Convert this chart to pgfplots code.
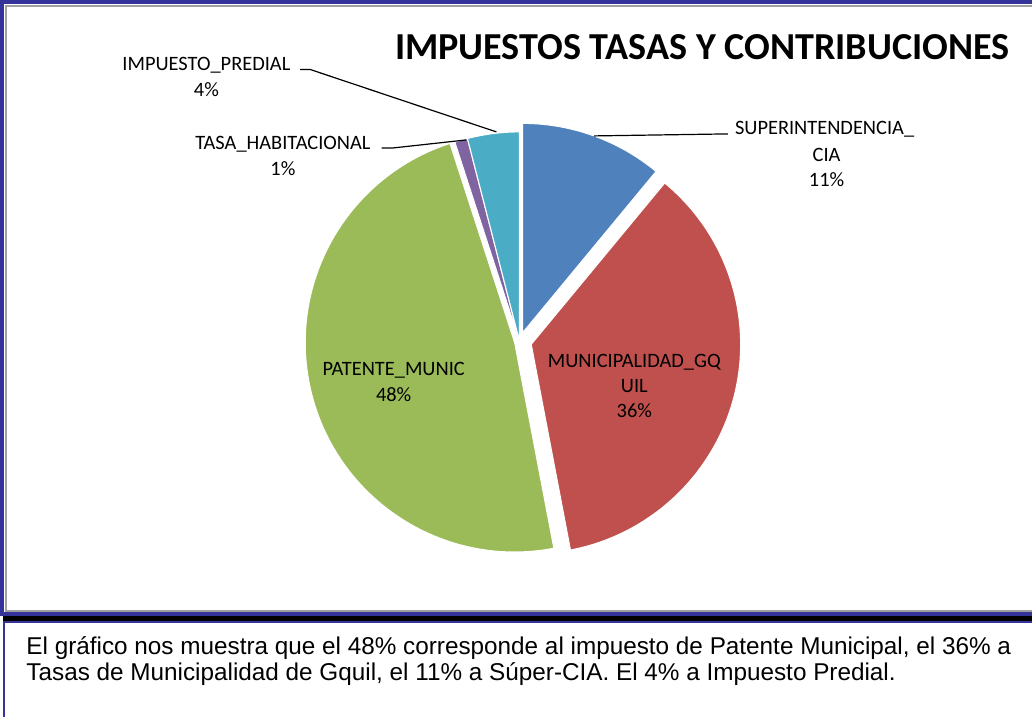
\documentclass[border=0pt]{standalone}
\usepackage{pgfplots}
\pgfplotsset{compat=1.18}
\usepackage{pgfplotstable}
\usepackage{fontspec}
\setmainfont{Carlito}
\newfontfamily\arialf{Liberation Sans}

\definecolor{c0}{HTML}{4F81BD}
\definecolor{c1}{HTML}{C0504D}
\definecolor{c2}{HTML}{9BBB59}
\definecolor{c3}{HTML}{8064A2}
\definecolor{c4}{HTML}{4BACC6}
\definecolor{frameblue}{RGB}{51,51,153}
\definecolor{framegray}{RGB}{160,160,160}

% share (%) and explosion (px) of each slice, clockwise from 12 o'clock
\pgfplotstableread{
label value explode
SUPERINTENDENCIA_CIA 11 9
MUNICIPALIDAD_GQUIL 36 12
PATENTE_MUNIC 48 5
TASA_HABITACIONAL 1 0
IMPUESTO_PREDIAL 4 0
}\piedata

\newcommand\pcx{523}
\newcommand\pcy{342}
\pgfmathsetmacro\cum{0}
\pgfplotsforeachungrouped \i in {0,...,4}{%
  \pgfplotstablegetelem{\i}{value}\of\piedata\let\vv\pgfplotsretval
  \pgfplotstablegetelem{\i}{explode}\of\piedata\let\dd\pgfplotsretval
  \pgfmathsetmacro\sa{90-3.6*\cum}%
  \pgfmathsetmacro\ea{90-3.6*(\cum+\vv)}%
  \pgfmathsetmacro\ma{(\sa+\ea)/2}%
  \pgfmathsetmacro\ox{\pcx+\dd*cos(\ma)}%
  \pgfmathsetmacro\oy{\pcy-\dd*sin(\ma)}%
  \expandafter\xdef\csname pa\i\endcsname{\sa}%
  \expandafter\xdef\csname pb\i\endcsname{\ea}%
  \expandafter\xdef\csname ox\i\endcsname{\ox}%
  \expandafter\xdef\csname oy\i\endcsname{\oy}%
  \pgfmathsetmacro\cum{\cum+\vv}%
}

\begin{document}
\begin{tikzpicture}
\begin{axis}[
  hide axis,
  scale only axis,
  width=774pt, height=536.25pt,
  xmin=0, xmax=1032, ymin=0, ymax=715,
  y dir=reverse,
  clip=true,
]
% frame of the chart
\draw[frameblue, line width=3pt] (axis cs:1032,5) -- (axis cs:9,5) -- (axis cs:9,613) -- (axis cs:1032,613);
\draw[framegray, line width=1.2pt] (axis cs:1032,9.2) -- (axis cs:13.2,9.2) -- (axis cs:13.2,610) -- (axis cs:1032,610);
% text box
\draw[black, line width=3.75pt] (axis cs:10,617.5) -- (axis cs:1032,617.5);
\draw[frameblue, line width=1.5pt] (axis cs:1032,621) -- (axis cs:11,621) -- (axis cs:11,715);

% slices
\pgfplotsinvokeforeach{0,...,4}{
  \filldraw[fill=c#1, draw=white, line width=0.8pt]
    (axis cs:\csname ox#1\endcsname,\csname oy#1\endcsname) -- ++(\csname pa#1\endcsname:156pt)
    arc[start angle=\csname pa#1\endcsname, end angle=\csname pb#1\endcsname, radius=156pt] -- cycle;
}

% title
\node[anchor=base east, inner sep=0pt, font=\fontsize{28.4}{34}\selectfont\bfseries] at (axis cs:1010,62) {IMPUESTOS TASAS Y CONTRIBUCIONES};

% leader lines
\draw[black, line width=0.9pt] (axis cs:305,72) -- (axis cs:315,72) -- (axis cs:500,134);
\draw[black, line width=0.9pt] (axis cs:386,150) -- (axis cs:397,150) -- (axis cs:470,142);
\draw[black, line width=0.9pt] (axis cs:597,138) -- (axis cs:730,136);

% data labels
\tikzset{lab/.style={anchor=base, inner sep=0pt, font=\fontsize{15.2}{18}\selectfont}}
\node[lab] at (axis cs:212,73) {IMPUESTO\_PREDIAL};
\node[lab] at (axis cs:212,99) {4\%};
\node[lab] at (axis cs:288,151) {TASA\_HABITACIONAL};
\node[lab] at (axis cs:288,177) {1\%};
\node[lab] at (axis cs:826,137) {SUPERINTENDENCIA\_};
\node[lab] at (axis cs:828,163) {CIA};
\node[lab] at (axis cs:828,188) {11\%};
\node[lab] at (axis cs:637,368) {MUNICIPALIDAD\_GQ};
\node[lab] at (axis cs:637,393) {UIL};
\node[lab] at (axis cs:637,418) {36\%};
\node[lab] at (axis cs:398,376) {PATENTE\_MUNIC};
\node[lab] at (axis cs:398,402) {48\%};

% commentary
\tikzset{txt/.style={anchor=base west, inner sep=0pt, font=\arialf\fontsize{18.1}{21}\selectfont}}
\node[txt] at (axis cs:33,653) {El gráfico nos muestra que el 48\% corresponde al impuesto de Patente Municipal, el 36\% a};
\node[txt] at (axis cs:33,679) {Tasas de Municipalidad de Gquil, el 11\% a Súper-CIA. El 4\% a Impuesto Predial.};
\end{axis}
\end{tikzpicture}
\end{document}
